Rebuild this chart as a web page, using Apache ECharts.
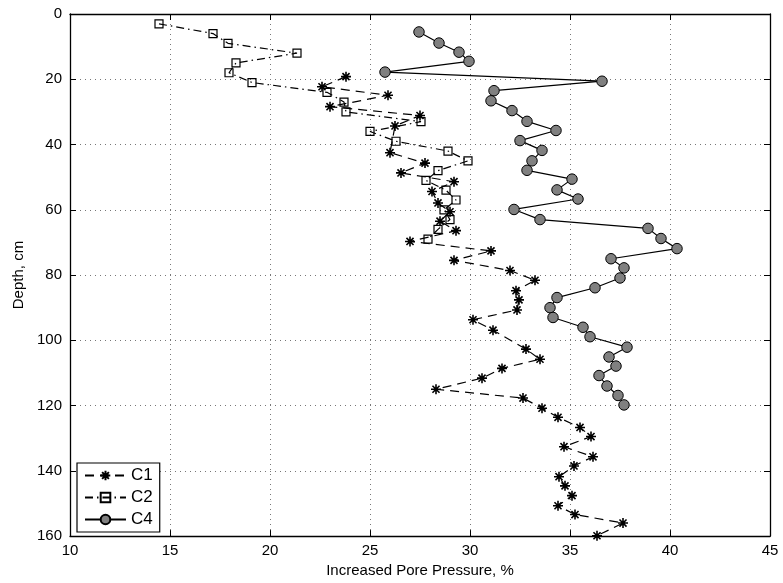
<!DOCTYPE html>
<html>
<head>
<meta charset="utf-8">
<script src="https://cdn.jsdelivr.net/npm/echarts@6/dist/echarts.min.js"></script>
<style>
  html, body { margin: 0; padding: 0; background: #fff; }
  #chart { width: 783px; height: 583px; }
</style>
</head>
<body>
<div id="chart"></div>
<script>
// Increased pore pressure (%) versus depth (cm) for three columns
const c1Pressure = [23.8, 22.6, 25.9, 23.0, 27.5, 26.25, 26.0, 27.75, 26.55, 29.2, 28.1, 28.4, 29.0, 28.5, 29.3, 27.0, 31.05, 29.2, 32.0, 33.25, 32.3, 32.45, 32.35, 30.15, 31.15, 32.8, 33.5, 31.6, 30.6, 28.3, 32.65, 33.6, 34.4, 35.5, 36.05, 34.7, 36.15, 35.2, 34.45, 34.75, 35.1, 34.4, 35.25, 37.65, 36.35];
const c1Depth = [19.2, 22.3, 24.9, 28.4, 31.1, 34.3, 42.5, 45.7, 48.7, 51.4, 54.4, 57.9, 60.6, 63.5, 66.4, 69.7, 72.6, 75.5, 78.6, 81.6, 84.8, 87.6, 90.7, 93.7, 96.9, 102.7, 105.8, 108.6, 111.6, 115.0, 117.7, 120.8, 123.6, 126.7, 129.5, 132.6, 135.7, 138.5, 141.8, 144.6, 147.6, 150.7, 153.4, 156.0, 159.9];

const c2Pressure = [14.45, 17.15, 17.9, 21.35, 18.3, 17.95, 19.1, 22.85, 23.7, 23.8, 27.55, 25.0, 26.3, 28.9, 29.9, 28.4, 27.8, 28.8, 29.3, 28.7, 29.0, 28.4, 27.9];
const c2Depth = [3, 6, 9, 12, 15, 18, 21, 24, 27, 30, 33, 36, 39, 42, 45, 48, 51, 54, 57, 60, 63, 66, 69];

const c4Pressure = [27.45, 28.45, 29.45, 29.95, 25.75, 36.6, 31.2, 31.05, 32.1, 32.85, 34.3, 32.5, 33.6, 33.1, 32.85, 35.1, 34.35, 35.4, 32.2, 33.5, 38.9, 39.55, 40.35, 37.05, 37.7, 37.5, 36.25, 34.35, 34.0, 34.15, 35.65, 36.0, 37.85, 36.95, 37.3, 36.45, 36.85, 37.4, 37.7];
const c4Depth = [5.5, 8.9, 11.7, 14.5, 17.8, 20.6, 23.5, 26.6, 29.6, 32.9, 35.7, 38.8, 41.8, 45.0, 47.9, 50.6, 53.9, 56.7, 59.9, 63.0, 65.7, 68.8, 71.9, 75.0, 77.8, 80.9, 83.9, 86.9, 90.0, 93.0, 96.0, 98.9, 102.1, 105.1, 107.9, 110.8, 114.0, 116.9, 119.8];

const seriesNames = ['C1', 'C2', 'C4'];
const xTitle = 'Increased Pore Pressure, %';
const yTitle = 'Depth, cm';

const FONT = '"Liberation Sans", Arial, Helvetica, sans-serif';

function pairs(xs, ys) {
  return xs.map((x, i) => [x, ys[i]]);
}

// eight-spoke asterisk marker
const asterisk = 'path://M0,-10L0,10M-10,0L10,0M-7.07,-7.07L7.07,7.07M-7.07,7.07L7.07,-7.07';

const gridLine = { show: true, lineStyle: { color: '#777', width: 1, type: [1, 4] } };
const axisLineStyle = { show: true, onZero: false, lineStyle: { color: '#000', width: 1.3 } };
const tickStyle = { show: true, inside: true, length: 6, lineStyle: { color: '#000', width: 1 } };
const labelStyle = { color: '#000', fontSize: 15, fontFamily: FONT };

const chart = echarts.init(document.getElementById('chart'), null, { renderer: 'canvas' });

chart.setOption({
  animation: false,
  backgroundColor: '#fff',
  grid: { left: 70, top: 14, width: 700, height: 524, containLabel: false },
  xAxis: [
    {
      type: 'value', position: 'bottom', min: 10, max: 45, interval: 5,
      name: xTitle, nameLocation: 'middle', nameGap: 25,
      nameTextStyle: { color: '#000', fontSize: 15, fontFamily: FONT },
      axisLine: axisLineStyle, axisTick: tickStyle,
      axisLabel: Object.assign({ margin: 7 }, labelStyle),
      splitLine: gridLine
    },
    {
      type: 'value', position: 'top', min: 10, max: 45, interval: 5,
      axisLine: axisLineStyle, axisTick: tickStyle,
      axisLabel: { show: false }, splitLine: { show: false }
    }
  ],
  yAxis: [
    {
      type: 'value', position: 'left', inverse: true, min: 0, max: 160, interval: 20,
      name: yTitle, nameLocation: 'middle', nameGap: 40,
      nameTextStyle: { color: '#000', fontSize: 15, fontFamily: FONT },
      axisLine: axisLineStyle, axisTick: tickStyle,
      axisLabel: Object.assign({ margin: 8 }, labelStyle),
      splitLine: gridLine
    },
    {
      type: 'value', position: 'right', inverse: true, min: 0, max: 160, interval: 20,
      axisLine: axisLineStyle, axisTick: tickStyle,
      axisLabel: { show: false }, splitLine: { show: false }
    }
  ],
  legend: {
    data: seriesNames,
    orient: 'vertical',
    left: 77, top: 463,
    padding: [4, 7, 4, 7],
    itemGap: 5,
    itemWidth: 41,
    itemHeight: 12,
    backgroundColor: '#fff',
    borderColor: '#000',
    borderWidth: 1.2,
    textStyle: { color: '#000', fontSize: 17, fontFamily: FONT, lineHeight: 17 }
  },
  series: [
    {
      name: seriesNames[0], type: 'line', xAxisIndex: 0, yAxisIndex: 0,
      data: pairs(c1Pressure, c1Depth),
      clip: false,
      symbol: asterisk, symbolSize: 10,
      itemStyle: { color: '#000', borderColor: '#000', borderWidth: 1.6 },
      lineStyle: { color: '#000', width: 1.2, type: [9, 6] }
    },
    {
      name: seriesNames[1], type: 'line', xAxisIndex: 0, yAxisIndex: 0,
      data: pairs(c2Pressure, c2Depth),
      clip: false,
      symbol: 'rect', symbolSize: 8,
      itemStyle: { color: 'rgba(255,255,255,0)', borderColor: '#000', borderWidth: 1.2 },
      lineStyle: { color: '#000', width: 1.2, type: [8, 4, 1.5, 4] }
    },
    {
      name: seriesNames[2], type: 'line', xAxisIndex: 0, yAxisIndex: 0,
      data: pairs(c4Pressure, c4Depth),
      clip: false,
      symbol: 'circle', symbolSize: 10.5,
      itemStyle: { color: '#808080', borderColor: '#000', borderWidth: 1 },
      lineStyle: { color: '#000', width: 1.2, type: 'solid' }
    }
  ]
});
</script>
</body>
</html>
